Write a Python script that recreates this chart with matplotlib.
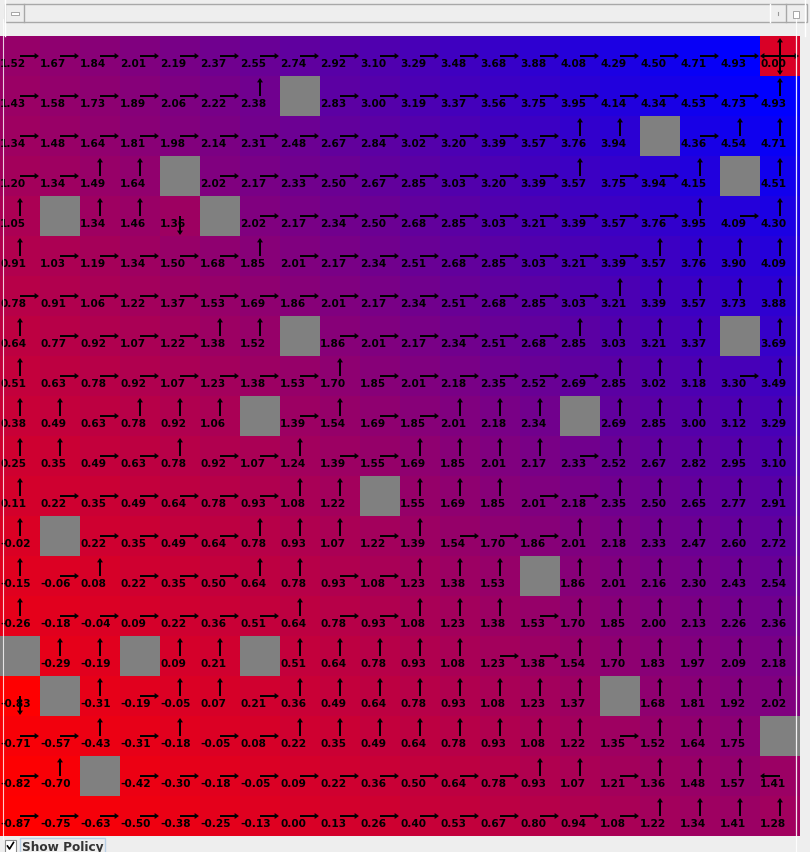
import numpy as np
import matplotlib
matplotlib.use("Agg")
import matplotlib.pyplot as plt
from matplotlib.colors import LinearSegmentedColormap
from matplotlib.patches import Rectangle

# state values, row 0 at the top, None = wall
values = [
    [1.52, 1.67, 1.84, 2.01, 2.19, 2.37, 2.55, 2.74, 2.92, 3.10, 3.29, 3.48, 3.68, 3.88, 4.08, 4.29, 4.50, 4.71, 4.93, 0.00],
    [1.43, 1.58, 1.73, 1.89, 2.06, 2.22, 2.38, None, 2.83, 3.00, 3.19, 3.37, 3.56, 3.75, 3.95, 4.14, 4.34, 4.53, 4.73, 4.93],
    [1.34, 1.48, 1.64, 1.81, 1.98, 2.14, 2.31, 2.48, 2.67, 2.84, 3.02, 3.20, 3.39, 3.57, 3.76, 3.94, None, 4.36, 4.54, 4.71],
    [1.20, 1.34, 1.49, 1.64, None, 2.02, 2.17, 2.33, 2.50, 2.67, 2.85, 3.03, 3.20, 3.39, 3.57, 3.75, 3.94, 4.15, None, 4.51],
    [1.05, None, 1.34, 1.46, 1.36, None, 2.02, 2.17, 2.34, 2.50, 2.68, 2.85, 3.03, 3.21, 3.39, 3.57, 3.76, 3.95, 4.09, 4.30],
    [0.91, 1.03, 1.19, 1.34, 1.50, 1.68, 1.85, 2.01, 2.17, 2.34, 2.51, 2.68, 2.85, 3.03, 3.21, 3.39, 3.57, 3.76, 3.90, 4.09],
    [0.78, 0.91, 1.06, 1.22, 1.37, 1.53, 1.69, 1.86, 2.01, 2.17, 2.34, 2.51, 2.68, 2.85, 3.03, 3.21, 3.39, 3.57, 3.73, 3.88],
    [0.64, 0.77, 0.92, 1.07, 1.22, 1.38, 1.52, None, 1.86, 2.01, 2.17, 2.34, 2.51, 2.68, 2.85, 3.03, 3.21, 3.37, None, 3.69],
    [0.51, 0.63, 0.78, 0.92, 1.07, 1.23, 1.38, 1.53, 1.70, 1.85, 2.01, 2.18, 2.35, 2.52, 2.69, 2.85, 3.02, 3.18, 3.30, 3.49],
    [0.38, 0.49, 0.63, 0.78, 0.92, 1.06, None, 1.39, 1.54, 1.69, 1.85, 2.01, 2.18, 2.34, None, 2.69, 2.85, 3.00, 3.12, 3.29],
    [0.25, 0.35, 0.49, 0.63, 0.78, 0.92, 1.07, 1.24, 1.39, 1.55, 1.69, 1.85, 2.01, 2.17, 2.33, 2.52, 2.67, 2.82, 2.95, 3.10],
    [0.11, 0.22, 0.35, 0.49, 0.64, 0.78, 0.93, 1.08, 1.22, None, 1.55, 1.69, 1.85, 2.01, 2.18, 2.35, 2.50, 2.65, 2.77, 2.91],
    [-0.02, None, 0.22, 0.35, 0.49, 0.64, 0.78, 0.93, 1.07, 1.22, 1.39, 1.54, 1.70, 1.86, 2.01, 2.18, 2.33, 2.47, 2.60, 2.72],
    [-0.15, -0.06, 0.08, 0.22, 0.35, 0.50, 0.64, 0.78, 0.93, 1.08, 1.23, 1.38, 1.53, None, 1.86, 2.01, 2.16, 2.30, 2.43, 2.54],
    [-0.26, -0.18, -0.04, 0.09, 0.22, 0.36, 0.51, 0.64, 0.78, 0.93, 1.08, 1.23, 1.38, 1.53, 1.70, 1.85, 2.00, 2.13, 2.26, 2.36],
    [None, -0.29, -0.19, None, 0.09, 0.21, None, 0.51, 0.64, 0.78, 0.93, 1.08, 1.23, 1.38, 1.54, 1.70, 1.83, 1.97, 2.09, 2.18],
    [-0.83, None, -0.31, -0.19, -0.05, 0.07, 0.21, 0.36, 0.49, 0.64, 0.78, 0.93, 1.08, 1.23, 1.37, None, 1.68, 1.81, 1.92, 2.02],
    [-0.71, -0.57, -0.43, -0.31, -0.18, -0.05, 0.08, 0.22, 0.35, 0.49, 0.64, 0.78, 0.93, 1.08, 1.22, 1.35, 1.52, 1.64, 1.75, None],
    [-0.82, -0.70, None, -0.42, -0.30, -0.18, -0.05, 0.09, 0.22, 0.36, 0.50, 0.64, 0.78, 0.93, 1.07, 1.21, 1.36, 1.48, 1.57, 1.41],
    [-0.87, -0.75, -0.63, -0.50, -0.38, -0.25, -0.13, 0.00, 0.13, 0.26, 0.40, 0.53, 0.67, 0.80, 0.94, 1.08, 1.22, 1.34, 1.41, 1.28],
]

# greedy policy per cell: R right, U up, D down, L left, G goal (all four), # wall
policy = [
    "RRRRRRRRRRRRRRRRRRRG",
    "RRRRRRU#RRRRRRRRRRRU",
    "RRRRRRRRRRRRRRUU#RUU",
    "RRUU#RRRRRRRRRURRU#U",
    "U#UUD#RRRRRRRRRRRURU",
    "URRRRRURRRRRRRRRUUUU",
    "RRRRRRRRRRRRRRRUUUUU",
    "URRRRUU#RRRRRRUUUU#U",
    "URRRRRRRURRRRRRUUURU",
    "UURUUU#RURRUUU#UUUUU",
    "UURRURRURRUUUURUUUUU",
    "URRRRRRUU#UUURRUUUUU",
    "U#RRRRUUURURRRUUUUUU",
    "URURRRUURRUUU#UUUUUU",
    "URRRRRRURRUUURUUUUUU",
    "#UU#UU#UUUUURRUUUUUU",
    "D#URUURUUUUUUUU#UUUU",
    "RRURURRUUUUUUUURUUU#",
    "RU#RRRRRRRRRRUURUUUL",
    "RRRRRRRRRRRRRRRRUUUU",
]

W, H = 810, 853
BG = "#eeeeee"
WALL = "#808080"

# arrow end offsets from the cell centre
DIRS = {"R": (0.475, 0.0), "L": (-0.5, 0.0), "U": (0.0, -0.45), "D": (0.0, 0.475)}


def draw_grid(fig):
    n = len(values)
    ax = fig.add_axes([0, 16 / H, 800 / W, 800 / H])
    ax.set_xlim(0, n)
    ax.set_ylim(n, 0)
    ax.axis("off")

    arr = np.array([[np.nan if v is None else v for v in row] for row in values], dtype=float)
    cmap = LinearSegmentedColormap.from_list("rb", ["#ff0000", "#0000ff"])
    cmap.set_bad(WALL)
    ax.imshow(np.ma.masked_invalid(arr), cmap=cmap, vmin=np.nanmin(arr), vmax=np.nanmax(arr),
              extent=(0, n, n, 0), interpolation="nearest", aspect="auto")

    for r in range(n):
        for c in range(n):
            v = values[r][c]
            if v is None:
                continue
            ax.text(c + 0.005, r + 0.75, f"{v:.2f}", fontsize=7.6, fontweight="bold",
                    color="black", ha="left", va="baseline", zorder=3)
            p = policy[r][c]
            dirs = "RLUD" if p == "G" else p
            for d in dirs:
                dx, dy = DIRS[d]
                ax.arrow(c + 0.5, r + 0.5, dx, dy, width=0.05, head_width=0.15,
                         head_length=0.11, length_includes_head=True, color="black",
                         lw=0, zorder=4)
    return ax


def draw_chrome(fig):
    ax = fig.add_axes([0, 0, 1, 1], facecolor="none", zorder=5)
    ax.set_xlim(0, W)
    ax.set_ylim(H, 0)
    ax.axis("off")
    edge = "#a8a8a8"
    # top scroll bar
    ax.add_patch(Rectangle((5, 5), 802, 18, fc=BG, ec=edge, lw=1))
    ax.plot([23.5, 23.5], [5, 23], color=edge, lw=1)
    ax.plot([770, 770], [5, 23], color="white", lw=1)
    ax.plot([786, 786], [5, 23], color=edge, lw=1)
    ax.add_patch(Rectangle((11, 13), 8, 2.5, fc="white", ec="#999999", lw=0.6))
    ax.add_patch(Rectangle((793, 12), 6, 7, fc="white", ec="#999999", lw=0.6))
    ax.plot([778, 778], [13, 16], color="#999999", lw=0.8)
    ax.plot([5, 5], [0, 37], color="white", lw=1)
    ax.plot([805, 805], [0, 37], color="white", lw=1)
    # panel borders over the grid
    ax.plot([2.5, 2.5], [20, 840], color="white", lw=0.8, alpha=0.8)
    ax.plot([795.5, 795.5], [20, 853], color="white", lw=0.9, alpha=0.9)
    # bottom checkbox
    ax.add_patch(Rectangle((5, 841), 11, 14, fc="white", ec="#8a8a8a", lw=0.8))
    ax.plot([7.5, 9.5, 13.5], [847, 850, 843.5], color="black", lw=1.2)
    ax.add_patch(Rectangle((20, 838.5), 85, 18, fc="none", ec="#b8cfe5", lw=1))
    ax.text(22, 851, "Show Policy", fontsize=8.7, fontweight="bold", color="#333333",
            ha="left", va="baseline")


def main():
    fig = plt.figure(figsize=(W / 100, H / 100), dpi=100, facecolor=BG)
    draw_grid(fig)
    draw_chrome(fig)
    fig.savefig("out.png", dpi=100, facecolor=BG)


if __name__ == "__main__":
    main()
